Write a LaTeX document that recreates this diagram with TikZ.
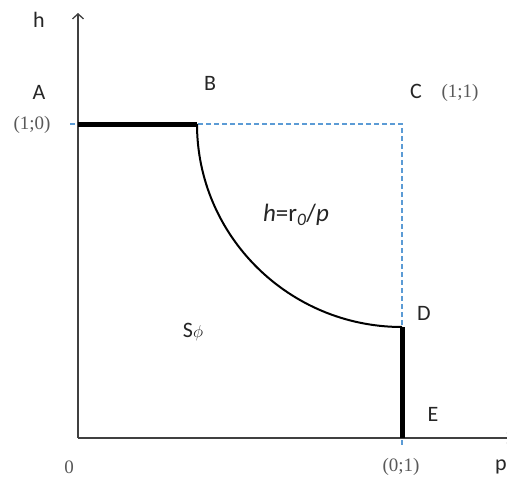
\documentclass[tikz,border=0pt]{standalone}
\usepackage{fontspec}
\setmainfont{Carlito}
\newfontfamily\coordfont{Liberation Serif}
\usepackage{xcolor}
\usetikzlibrary{arrows.meta}
\definecolor{guideblue}{RGB}{91,155,213}

\begin{document}
\begin{tikzpicture}[x=1pt, y=-1pt,
  axis/.style={draw=black!75, line width=1.3pt},
  arrow/.style={-{Straight Barb[length=5pt,width=11pt]}},
  bold/.style={line width=5pt},
  curve/.style={line width=2pt},
  guide/.style={draw=guideblue, dash pattern=on 5pt off 3pt, line width=1.1pt},
  letter/.style={font=\fontsize{22}{24}\selectfont, text=black!85, inner sep=0pt},
  coord/.style={font=\coordfont\fontsize{19}{21}\selectfont, text=black!65, inner sep=0pt}
]
\useasboundingbox (0,0) rectangle (507,479);
\coordinate (O) at (78,438);
\coordinate (hend) at (78,13);
\coordinate (pend) at (513,438);
\coordinate (A) at (78,124);
\coordinate (B) at (197,124);
\coordinate (C) at (402,124);
\coordinate (D) at (402,327);
\coordinate (E) at (402,438);
\coordinate (gstart) at (70,124);
\coordinate (gend) at (402,446);
\draw[guide] (gstart) -- (C) -- (gend);
\draw[axis, arrow] (O) -- (hend);
\draw[axis, arrow] (O) -- (pend);
\draw[bold] (A) -- (B);
\draw[curve] (B) .. controls +(0,112) and +(-113,0) .. (D);
\draw[bold] (D) -- (E);
\node[letter] (hlabel) at (39,20) {h};
\node[letter] (plabel) at (501,467) {p};
\node[letter] (Alabel) at (39,92) {A};
\node[letter] (Blabel) at (210,83) {B};
\node[letter] (Clabel) at (416,91) {C};
\node[letter] (Dlabel) at (424,313) {D};
\node[letter] (Elabel) at (433,414) {E};
\node[coord] (Ccoord) at (460,93) {(1;1)};
\node[coord] (Acoord) at (32,125) {(1;0)};
\node[coord] (Ocoord) at (69,467) {0};
\node[coord] (Ecoord) at (401,467) {(0;1)};
\node[letter] (region) at (193,332) {S{\fontsize{19}{20}\selectfont$\phi$}};
\node[letter, font=\fontsize{25}{27}\selectfont] (law) at (296,215) {\textit{h}=r\textsubscript{\textit{0}}/\textit{p}};
\end{tikzpicture}
\end{document}
